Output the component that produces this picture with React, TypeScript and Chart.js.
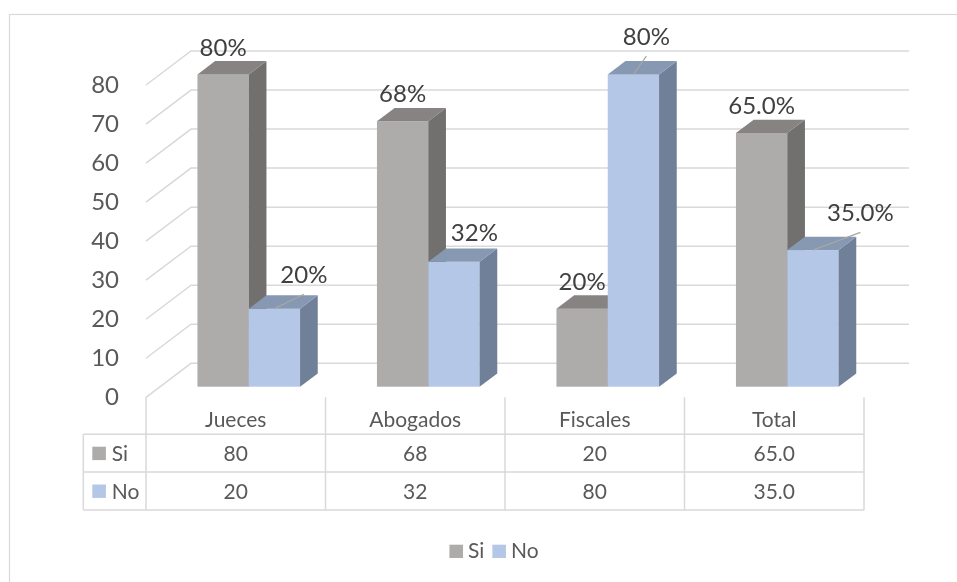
import React, { useEffect, useRef } from "react";
import { Chart, registerables } from "chart.js";

Chart.register(...registerables);

// ---- data ----
const categories = ["Jueces", "Abogados", "Fiscales", "Total"];
const siValues = [80, 68, 20, 65.0];
const noValues = [20, 32, 80, 35.0];
const valueDecimals = [0, 0, 0, 1];
const seriesNames = ["Si", "No"];
const yMin = 0;
const yMax = 80;
const yStep = 10;

// ---- style ----
const W = 957;
const H = 582;
const FONT = "Lato, 'Open Sans', 'Noto Sans', sans-serif";
const GRID = "#D9D9D9";
const AXIS_TEXT = "#595959";
const LABEL_TEXT = "#404040";
const LEADER = "#A6A6A6";
const SERIES_COLORS = [
  { front: "#AEABAB", side: "#726F6F", top: "#878383" },
  { front: "#B4C7E7", side: "#718099", top: "#8798B2" },
];
// depth of the back wall relative to the front plane
const WALL = { dx: 45, dy: -34 };
// plane where the columns' front faces sit
const BAR_PLANE = { dx: 13, dy: -10.6 };
// depth of each column
const BAR_DEPTH = { dx: 17.7, dy: -13.3 };
// moved data labels (per series, per category) and their leader lines
const LABEL_SHIFT = [
  [[0, 0], [0, 0], [0, 0], [0, 0]],
  [[29.5, -7], [20.5, -2], [13, -11], [47.5, -10.4]],
];
const LABEL_LEADER = [
  [false, false, false, false],
  [true, false, true, true],
];
const TABLE = { headerH: 37, rowH: 37.8, rowHeaderLeft: 83.3 };
const LEGEND = { cx: 494, y: 558, box: 13.6, gap: 36 };

const fmt = (v: number, i: number) => v.toFixed(valueDecimals[i]);

const threeD = {
  id: "threeD",
  beforeDatasetsDraw(chart: any) {
    const { ctx, chartArea: area } = chart;
    const ys = chart.scales.y;
    ctx.save();
    // back wall and side wall grid
    ctx.strokeStyle = GRID;
    ctx.lineWidth = 1.5;
    ys.ticks.forEach((t: any) => {
      const py = ys.getPixelForValue(t.value);
      ctx.beginPath();
      ctx.moveTo(area.left, py);
      ctx.lineTo(area.left + WALL.dx, py + WALL.dy);
      ctx.lineTo(area.right + WALL.dx, py + WALL.dy);
      ctx.stroke();
    });
    // columns
    const n = categories.length;
    for (let i = 0; i < n; i++) {
      chart.data.datasets.forEach((_: any, d: number) => {
        const el = chart.getDatasetMeta(d).data[i];
        const p = el.getProps(["x", "y", "base", "width"], true);
        const x0 = p.x - p.width / 2 + BAR_PLANE.dx;
        const x1 = p.x + p.width / 2 + BAR_PLANE.dx;
        const top = p.y + BAR_PLANE.dy;
        const base = p.base + BAR_PLANE.dy;
        const c = SERIES_COLORS[d];
        const { dx, dy } = BAR_DEPTH;
        ctx.fillStyle = c.front;
        ctx.fillRect(x0, top, x1 - x0, base - top);
        ctx.fillStyle = c.side;
        ctx.beginPath();
        ctx.moveTo(x1, top);
        ctx.lineTo(x1 + dx, top + dy);
        ctx.lineTo(x1 + dx, base + dy);
        ctx.lineTo(x1, base);
        ctx.closePath();
        ctx.fill();
        ctx.fillStyle = c.top;
        ctx.beginPath();
        ctx.moveTo(x0, top);
        ctx.lineTo(x1, top);
        ctx.lineTo(x1 + dx, top + dy);
        ctx.lineTo(x0 + dx, top + dy);
        ctx.closePath();
        ctx.fill();
      });
    }
    ctx.restore();
    return false;
  },
  afterDraw(chart: any) {
    const { ctx, chartArea: area } = chart;
    const xs = chart.scales.x;
    const n = categories.length;
    ctx.save();

    // data labels
    ctx.font = `24px ${FONT}`;
    ctx.textAlign = "center";
    ctx.textBaseline = "alphabetic";
    chart.data.datasets.forEach((ds: any, d: number) => {
      const meta = chart.getDatasetMeta(d);
      ds.data.forEach((v: number, i: number) => {
        const p = meta.data[i].getProps(["x", "y"], true);
        const fx = p.x + BAR_PLANE.dx;
        const fy = p.y + BAR_PLANE.dy;
        const [sx, sy] = LABEL_SHIFT[d][i];
        const lx = fx + sx;
        const ly = fy + BAR_DEPTH.dy - 5.5 + sy;
        if (LABEL_LEADER[d][i]) {
          ctx.strokeStyle = LEADER;
          ctx.lineWidth = 1.2;
          ctx.beginPath();
          ctx.moveTo(fx, fy);
          ctx.lineTo(lx, ly + 11.5);
          ctx.stroke();
        }
        ctx.fillStyle = LABEL_TEXT;
        ctx.fillText(fmt(v, i) + "%", lx, ly);
      });
    });

    // data table
    const step = xs.getPixelForValue(1) - xs.getPixelForValue(0);
    const bounds: number[] = [];
    for (let i = 0; i <= n; i++) bounds.push(xs.getPixelForValue(0) - step / 2 + i * step);
    const t0 = area.bottom;
    const r1 = t0 + TABLE.headerH;
    const r2 = r1 + TABLE.rowH;
    const r3 = r2 + TABLE.rowH;
    ctx.strokeStyle = GRID;
    ctx.lineWidth = 1.5;
    ctx.beginPath();
    bounds.forEach((bx) => {
      ctx.moveTo(bx, t0);
      ctx.lineTo(bx, r3);
    });
    ctx.moveTo(TABLE.rowHeaderLeft, r1);
    ctx.lineTo(TABLE.rowHeaderLeft, r3);
    [r1, r2, r3].forEach((ry) => {
      ctx.moveTo(TABLE.rowHeaderLeft, ry);
      ctx.lineTo(bounds[n], ry);
    });
    ctx.stroke();

    ctx.font = `21px ${FONT}`;
    ctx.fillStyle = AXIS_TEXT;
    ctx.textAlign = "center";
    categories.forEach((c, i) => ctx.fillText(c, xs.getPixelForValue(i), t0 + 30));
    const rowTops = [r1, r2];
    chart.data.datasets.forEach((ds: any, d: number) => {
      const base = rowTops[d] + 26.7;
      ctx.textAlign = "center";
      ctx.fillStyle = AXIS_TEXT;
      ds.data.forEach((v: number, i: number) => ctx.fillText(fmt(v, i), xs.getPixelForValue(i), base));
      ctx.fillStyle = SERIES_COLORS[d].front;
      ctx.fillRect(TABLE.rowHeaderLeft + 9, rowTops[d] + 12.4, 13.6, 13.4);
      ctx.fillStyle = AXIS_TEXT;
      ctx.textAlign = "left";
      ctx.fillText(ds.label, TABLE.rowHeaderLeft + 28.4, base);
    });

    // legend
    ctx.font = `21px ${FONT}`;
    ctx.textAlign = "left";
    const items = chart.data.datasets.map((ds: any) => ctx.measureText(ds.label).width + LEGEND.box + 5);
    const total = items.reduce((a: number, b: number) => a + b, 0) + LEGEND.gap * 0 + 8 * (items.length - 1);
    let lx = LEGEND.cx - total / 2;
    chart.data.datasets.forEach((ds: any, d: number) => {
      ctx.fillStyle = SERIES_COLORS[d].front;
      ctx.fillRect(lx, LEGEND.y - 13.3, LEGEND.box, 13.3);
      ctx.fillStyle = AXIS_TEXT;
      ctx.fillText(ds.label, lx + LEGEND.box + 5, LEGEND.y);
      lx += items[d] + 8;
    });

    // chart frame
    ctx.strokeStyle = GRID;
    ctx.lineWidth = 1.2;
    ctx.strokeRect(9.5, 14.5, W + 20, H + 20);
    ctx.restore();
  },
};

export default function App() {
  const ref = useRef<HTMLCanvasElement>(null);
  useEffect(() => {
    const chart = new Chart(ref.current as HTMLCanvasElement, {
      type: "bar",
      data: {
        labels: categories,
        datasets: [
          { label: seriesNames[0], data: siValues, backgroundColor: SERIES_COLORS[0].front },
          { label: seriesNames[1], data: noValues, backgroundColor: SERIES_COLORS[1].front },
        ],
      },
      options: {
        responsive: false,
        animation: false,
        events: [],
        layout: { padding: { left: 0, top: 85, right: 93, bottom: 184.7 } },
        datasets: { bar: { categoryPercentage: 0.5716, barPercentage: 1 } } as any,
        plugins: { legend: { display: false }, tooltip: { enabled: false } },
        scales: {
          x: { display: false },
          y: {
            min: yMin,
            max: yMax,
            ticks: { stepSize: yStep, padding: 27, color: AXIS_TEXT, font: { family: FONT, size: 24 } },
            grid: { display: false, drawTicks: false },
            border: { display: false },
            afterFit: (s: any) => {
              s.width = 146;
            },
          },
        },
      },
      plugins: [threeD],
    });
    return () => chart.destroy();
  }, []);
  return (
    <div style={{ position: "fixed", left: 0, top: 0, width: W, height: H, background: "#fff" }}>
      <canvas ref={ref} width={W} height={H} style={{ display: "block", width: W, height: H }} />
    </div>
  );
}
